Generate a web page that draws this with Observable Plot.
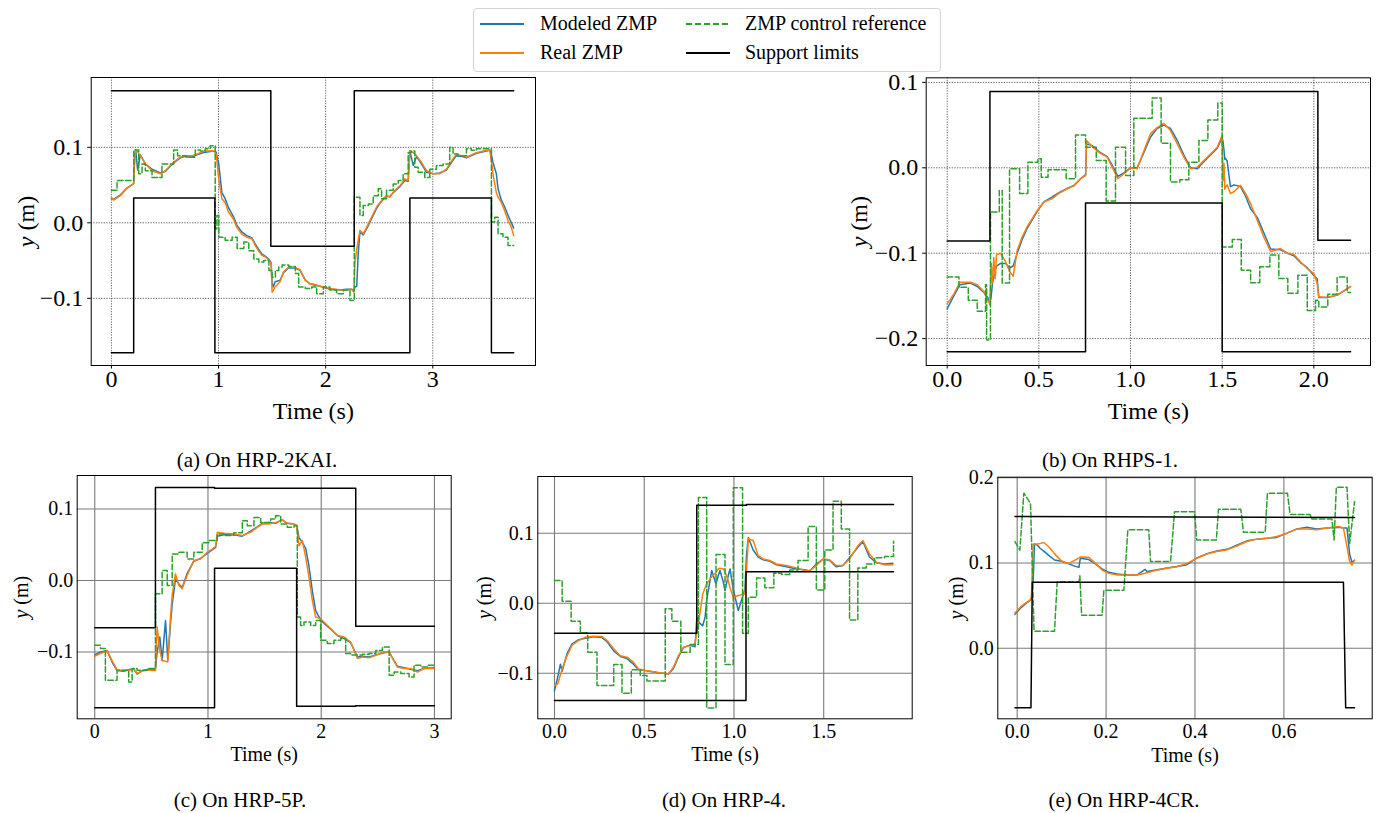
<!DOCTYPE html>
<html><head><meta charset="utf-8">
<script src="https://cdn.jsdelivr.net/npm/d3@7"></script>
<script src="https://cdn.jsdelivr.net/npm/@observablehq/plot@0.6"></script>
<style>
html,body{margin:0;padding:0;background:#fff}
body{width:1380px;height:813px;position:relative;overflow:hidden;font-family:"Liberation Serif","Times New Roman",serif;color:#000}
.panel{position:absolute}
.cap{position:absolute;font-size:21px;line-height:24px;white-space:nowrap;transform:translateX(-50%)}
.legtext{position:absolute;font-size:20px;line-height:22px;white-space:nowrap}
.leghandle{position:absolute}
</style></head><body>
<div id="legendbox" style="position:absolute;left:473px;top:8px;width:468px;height:64px;border:1px solid #d4d4d4;border-radius:4px;box-sizing:border-box;background:#fff"></div>
<div id="root"></div>
<script>
// ---------- legend ----------
const seriesNames = ["Modeled ZMP", "Real ZMP", "ZMP control reference", "Support limits"];
const seriesColors = ["#1f77b4", "#ff7f0e", "#2ca02c", "#000000"];
const seriesDash = [null, null, "5.5,2.5", null];

// ---------- captions ----------
const captions = ["(a) On HRP-2KAI.", "(b) On RHPS-1.", "(c) On HRP-5P.", "(d) On HRP-4.", "(e) On HRP-4CR."];

// ---------- panel (a) HRP-2KAI ----------
const aT = [0,0.02,0.084,0.146,0.208,0.217,0.227,0.245,0.27,0.317,
 0.379,0.457,0.503,0.55,0.596,0.643,0.689,0.752,0.798,0.86,
 0.953,0.978,0.99,1.0,1.016,1.031,1.062,1.093,1.14,1.171,
 1.217,1.264,1.311,1.342,1.373,1.404,1.435,1.475,1.491,1.5,
 1.51,1.528,1.575,1.606,1.652,1.714,1.761,1.807,1.854,1.885,
 1.947,2.04,2.13,2.196,2.24,2.264,2.273,2.29,2.304,2.32,
 2.351,2.382,2.413,2.444,2.475,2.506,2.537,2.568,2.599,2.63,
 2.661,2.693,2.739,2.77,2.786,2.817,2.848,2.894,2.941,3.003,
 3.065,3.127,3.189,3.22,3.267,3.314,3.36,3.407,3.469,3.531,
 3.547,3.562,3.578,3.593,3.609,3.64,3.671,3.702,3.733,3.755];
const aReal = [0.034,0.030,0.036,0.046,0.052,0.080,0.0965,0.094,0.089,0.078,
 0.069,0.065,0.069,0.076,0.082,0.087,0.089,0.089,0.091,0.095,
 0.0955,0.091,0.075,0.060,0.045,0.032,0.027,0.014,0.005,-0.006,
 -0.015,-0.019,-0.021,-0.030,-0.037,-0.043,-0.045,-0.050,-0.054,-0.092,
 -0.090,-0.085,-0.078,-0.065,-0.059,-0.059,-0.062,-0.076,-0.081,-0.081,
 -0.084,-0.087,-0.0885,-0.089,-0.088,-0.092,-0.054,-0.035,-0.023,-0.010,
 -0.0145,-0.006,0.003,0.012,0.021,0.027,0.032,0.036,0.034,0.0405,
 0.045,0.049,0.058,0.056,0.0956,0.093,0.089,0.080,0.069,0.065,
 0.065,0.071,0.085,0.091,0.089,0.087,0.090,0.093,0.095,0.0965,
 0.082,0.065,0.0515,0.040,0.034,0.027,0.016,0.003,-0.006,-0.017];
const aMod = [0.032,0.031,0.037,0.046,0.052,0.090,0.096,0.070,0.090,0.078,
 0.071,0.066,0.068,0.075,0.081,0.086,0.088,0.087,0.090,0.093,
 0.095,0.094,0.085,0.080,0.060,0.040,0.032,0.020,0.008,-0.003,
 -0.012,-0.017,-0.020,-0.028,-0.035,-0.041,-0.044,-0.049,-0.053,-0.080,
 -0.085,-0.078,-0.076,-0.066,-0.060,-0.060,-0.063,-0.075,-0.081,-0.082,
 -0.084,-0.088,-0.089,-0.088,-0.088,-0.089,-0.085,-0.084,-0.040,-0.012,
 -0.016,-0.008,0.001,0.010,0.019,0.026,0.031,0.035,0.035,0.040,
 0.044,0.048,0.056,0.055,0.095,0.076,0.088,0.078,0.067,0.065,
 0.066,0.070,0.083,0.089,0.088,0.086,0.089,0.092,0.094,0.096,
 0.090,0.080,0.072,0.065,0.045,0.030,0.021,0.010,0.000,-0.007];
const aRefT = [0,0.053,0.209,0.255,0.286,0.317,0.379,0.472,0.581,0.618,
 0.699,0.783,0.829,0.876,0.922,0.969,0.985,1.003,1.062,1.127,
 1.174,1.236,1.282,1.329,1.376,1.422,1.47,1.5,1.531,1.562,
 1.593,1.655,1.717,1.748,1.81,1.87,1.916,1.978,2.04,2.102,
 2.165,2.227,2.267,2.32,2.351,2.398,2.444,2.491,2.522,2.568,
 2.63,2.677,2.723,2.77,2.801,2.832,2.863,2.925,2.972,3.034,
 3.096,3.158,3.189,3.236,3.314,3.36,3.407,3.547,3.578,3.609,
 3.655,3.702,3.755];
const aRef = [0.043,0.056,0.0965,0.065,0.078,0.069,0.060,0.078,0.0965,0.089,
 0.087,0.0965,0.095,0.098,0.102,-0.008,0.0097,-0.019,-0.023,-0.019,
 -0.034,-0.0255,-0.037,-0.048,-0.052,-0.050,-0.063,-0.072,-0.063,-0.0586,
 -0.056,-0.058,-0.067,-0.085,-0.087,-0.085,-0.094,-0.085,-0.089,-0.094,
 -0.089,-0.103,0.034,0.0097,0.023,0.025,0.036,0.045,0.032,0.043,
 0.0515,0.056,0.065,0.093,0.095,0.0736,0.067,0.060,0.071,0.076,
 0.078,0.100,0.091,0.089,0.098,0.096,0.098,0.001,0.0075,-0.0145,
 -0.019,-0.030,-0.030];
const aSupUpT = [0,1.488,2.267,3.755];
const aSupUp = [0.175,-0.031,0.175,0.175];
const aSupLowT = [0,0.208,0.966,2.786,3.547,3.755];
const aSupLow = [-0.172,0.033,-0.172,0.033,-0.172,-0.172];
const aXTicks = [0,1,2,3];
const aYTicks = [-0.1,0,0.1];

// ---------- panel (b) RHPS-1 ----------
const bT = [0,0.036,0.069,0.127,0.164,0.2,0.222,0.233,0.24,0.247,
 0.254,0.262,0.269,0.291,0.318,0.342,0.36,0.382,0.409,0.436,
 0.464,0.491,0.527,0.573,0.609,0.655,0.691,0.727,0.755,0.76,
 0.791,0.827,0.873,0.9,0.931,0.964,1.0,1.036,1.073,1.109,
 1.145,1.182,1.218,1.255,1.291,1.327,1.364,1.4,1.436,1.473,
 1.5,1.505,1.51,1.514,1.518,1.527,1.545,1.564,1.6,1.627,
 1.655,1.691,1.727,1.764,1.818,1.855,1.891,1.927,1.964,2.0,
 2.018,2.027,2.073,2.127,2.2];
const bReal = [-0.159,-0.148,-0.134,-0.134,-0.137,-0.145,-0.155,-0.159,-0.112,-0.135,
 -0.105,-0.130,-0.102,-0.100,-0.110,-0.122,-0.127,-0.0965,-0.081,-0.069,
 -0.0595,-0.050,-0.040,-0.036,-0.030,-0.0245,-0.0206,-0.0128,-0.009,0.032,
 0.025,0.018,0.0125,0.0008,-0.0128,-0.007,0.0,-0.001,0.020,0.040,
 0.047,0.052,0.0436,0.028,0.0125,-0.001,0.0008,0.0086,0.016,0.024,
 0.038,-0.015,0.005,-0.025,-0.0226,-0.020,-0.030,-0.028,-0.0206,-0.030,
 -0.042,-0.0615,-0.081,-0.098,-0.0946,-0.100,-0.1016,-0.110,-0.118,-0.124,
 -0.135,-0.151,-0.152,-0.149,-0.139];
const bMod = [-0.165,-0.150,-0.137,-0.135,-0.139,-0.146,-0.152,-0.160,-0.150,-0.135,
 -0.128,-0.120,-0.115,-0.112,-0.112,-0.117,-0.115,-0.100,-0.084,-0.071,
 -0.061,-0.051,-0.040,-0.034,-0.029,-0.024,-0.021,-0.013,-0.008,0.028,
 0.026,0.019,0.013,0.003,-0.010,-0.006,0.0,0.0,0.018,0.036,
 0.046,0.050,0.046,0.032,0.015,0.0,-0.001,0.007,0.015,0.023,
 0.035,0.030,0.020,0.010,0.011,0.008,-0.022,-0.020,-0.022,-0.033,
 -0.048,-0.058,-0.076,-0.095,-0.096,-0.100,-0.103,-0.111,-0.117,-0.126,
 -0.130,-0.152,-0.152,-0.149,-0.139];
const bRefT = [0,0.064,0.115,0.164,0.209,0.215,0.236,0.284,0.3,0.34,
 0.395,0.44,0.495,0.513,0.55,0.649,0.7,0.755,0.813,0.867,
 0.918,0.973,1.018,1.118,1.167,1.218,1.269,1.318,1.373,1.422,
 1.476,1.5,1.555,1.604,1.655,1.705,1.76,1.809,1.858,1.913,
 1.964,2.009,2.027,2.076,2.127,2.182,2.2];
const bRef = [-0.128,-0.140,-0.155,-0.168,-0.137,-0.2016,-0.0518,-0.0265,-0.135,-0.0012,
 -0.030,0.0066,0.0105,-0.011,-0.0023,-0.0128,0.0385,0.024,0.0086,-0.039,
 0.024,-0.009,0.058,0.0817,0.0288,-0.0167,-0.014,0.0066,0.032,0.056,
 0.0759,-0.0926,-0.084,-0.120,-0.1346,-0.116,-0.102,-0.1296,-0.147,-0.1257,
 -0.167,-0.155,-0.163,-0.148,-0.128,-0.146,-0.146];
const bSupUpT = [0,0.233,2.022,2.2];
const bSupUp = [-0.0856,0.0895,-0.0848,-0.0848];
const bSupLowT = [0,0.7545,1.5,2.2];
const bSupLow = [-0.2155,-0.0412,-0.2155,-0.2150];
const bXTicks = [0,0.5,1,1.5,2];
const bYTicks = [-0.2,-0.1,0,0.1];

// ---------- panel (c) HRP-5P ----------
const cT = [0,0.05,0.109,0.153,0.197,0.256,0.315,0.345,0.374,0.418,
 0.477,0.536,0.551,0.575,0.595,0.625,0.645,0.669,0.684,0.713,
 0.743,0.772,0.816,0.875,0.934,0.993,1.037,1.067,1.082,1.14,
 1.229,1.303,1.376,1.435,1.48,1.538,1.597,1.656,1.7,1.76,
 1.783,1.804,1.833,1.863,1.892,1.922,1.951,1.995,2.04,2.084,
 2.143,2.202,2.26,2.32,2.364,2.423,2.482,2.555,2.6,2.673,
 2.732,2.791,2.85,2.909,2.997];
const cReal = [-0.106,-0.102,-0.098,-0.112,-0.125,-0.126,-0.125,-0.123,-0.130,-0.1265,
 -0.125,-0.126,-0.065,-0.098,-0.112,-0.113,-0.114,-0.051,-0.020,0.0093,
 -0.007,-0.0116,0.007,0.028,0.030,0.0395,0.044,0.0474,0.0674,0.066,
 0.065,0.063,0.0674,0.0744,0.079,0.079,0.081,0.0847,0.080,0.079,
 0.0767,0.0488,0.0558,0.0326,0.0047,-0.028,-0.051,-0.0535,-0.0605,-0.0674,
 -0.0767,-0.079,-0.086,-0.109,-0.107,-0.108,-0.1047,-0.100,-0.100,-0.121,
 -0.123,-0.123,-0.128,-0.123,-0.123];
const cMod = [-0.104,-0.100,-0.098,-0.114,-0.126,-0.127,-0.124,-0.124,-0.131,-0.126,
 -0.124,-0.124,-0.100,-0.079,-0.112,-0.056,-0.111,-0.060,-0.033,0.002,
 -0.005,-0.010,0.010,0.027,0.031,0.038,0.043,0.046,0.062,0.064,
 0.064,0.062,0.069,0.075,0.080,0.081,0.080,0.085,0.080,0.079,
 0.077,0.060,0.0535,0.045,0.020,-0.015,-0.042,-0.055,-0.062,-0.068,
 -0.077,-0.081,-0.087,-0.107,-0.106,-0.107,-0.104,-0.101,-0.100,-0.120,
 -0.122,-0.124,-0.126,-0.123,-0.122];
const cRefT = [0,0.05,0.094,0.197,0.30,0.33,0.374,0.463,0.536,0.595,
 0.64,0.684,0.743,0.816,0.875,0.949,1.008,1.082,1.14,1.229,
 1.303,1.347,1.406,1.465,1.553,1.597,1.642,1.7,1.76,1.789,
 1.818,1.848,1.907,1.951,1.995,2.054,2.113,2.172,2.216,2.26,
 2.364,2.423,2.482,2.54,2.6,2.644,2.703,2.776,2.82,2.879,
 2.938,2.997];
const cRef = [-0.0907,-0.095,-0.1395,-0.1256,-0.142,-0.123,-0.1256,-0.123,-0.0186,0.014,
 -0.007,0.037,0.0395,0.030,0.0395,0.053,0.056,0.065,0.063,0.067,
 0.0837,0.0767,0.088,0.081,0.086,0.0907,0.079,0.0744,0.0767,-0.051,
 -0.063,-0.058,-0.063,-0.056,-0.0837,-0.088,-0.0837,-0.081,-0.102,-0.104,
 -0.103,-0.102,-0.0977,-0.093,-0.1326,-0.128,-0.130,-0.135,-0.1186,-0.121,
 -0.1186,-0.1186];
const cSupUpT = [0,0.536,1.058,2.305,3.0];
const cSupUp = [-0.066,0.130,0.129,-0.064,-0.064];
const cSupLowT = [0,1.058,1.783,2.305,3.0];
const cSupLow = [-0.178,0.017,-0.176,-0.175,-0.175];
const cXTicks = [0,1,2,3];
const cYTicks = [-0.1,0,0.1];

// ---------- panel (d) HRP-4 ----------
const dT = [0,0.0185,0.033,0.0426,0.07,0.098,0.135,0.172,0.2185,0.265,
 0.293,0.33,0.367,0.404,0.44,0.469,0.5055,0.57,0.635,0.663,
 0.69,0.7185,0.7556,0.783,0.793,0.807,0.826,0.839,0.848,0.876,
 0.9,0.913,0.922,0.941,0.95,0.9685,0.978,0.996,1.024,1.061,
 1.07,1.08,1.107,1.135,1.163,1.2,1.237,1.2926,1.348,1.394,
 1.422,1.459,1.496,1.533,1.57,1.607,1.644,1.69,1.7185,1.755,
 1.793,1.839,1.885];
const dReal = [-0.1176,-0.115,-0.102,-0.094,-0.075,-0.060,-0.053,-0.0486,-0.047,-0.0476,
 -0.053,-0.065,-0.075,-0.077,-0.084,-0.094,-0.096,-0.0986,-0.101,-0.0914,
 -0.075,-0.063,-0.0605,-0.058,-0.039,-0.020,0.0133,0.022,0.0276,0.038,
 0.044,0.049,0.050,0.049,0.045,0.032,0.022,0.0086,0.011,0.0133,
 0.0467,0.092,0.0895,0.068,0.0633,0.061,0.056,0.0538,0.0505,0.0467,
 0.0467,0.0538,0.0633,0.062,0.0538,0.0538,0.0633,0.082,0.0895,0.0705,
 0.0586,0.0548,0.055];
const dMod = [-0.125,-0.105,-0.087,-0.097,-0.072,-0.058,-0.052,-0.050,-0.048,-0.049,
 -0.055,-0.068,-0.076,-0.079,-0.087,-0.095,-0.096,-0.099,-0.101,-0.093,
 -0.077,-0.063,-0.060,-0.062,-0.020,-0.028,-0.032,-0.020,0.005,0.0467,
 0.0276,0.040,0.0467,0.030,0.018,0.040,0.049,0.020,-0.0105,0.020,
 0.070,0.094,0.076,0.066,0.062,0.060,0.055,0.052,0.049,0.048,
 0.046,0.056,0.063,0.061,0.052,0.054,0.065,0.080,0.088,0.066,
 0.058,0.056,0.057];
const dRefT = [0,0.0426,0.0926,0.144,0.185,0.237,0.33,0.376,0.428,0.478,
 0.515,0.617,0.654,0.704,0.756,0.802,0.848,0.9,0.95,0.996,
 1.048,1.08,1.126,1.172,1.222,1.265,1.311,1.357,1.413,1.459,
 1.506,1.552,1.598,1.644,1.69,1.737,1.783,1.839,1.889];
const dRef = [0.0324,0.0029,-0.0257,-0.0424,-0.070,-0.1176,-0.0876,-0.1286,-0.095,-0.103,
 -0.111,-0.008,-0.0257,-0.070,-0.059,0.151,-0.1495,0.0695,-0.0876,0.165,
 -0.043,0.0086,0.036,0.022,0.043,0.041,0.0476,0.061,0.1095,0.019,
 0.076,0.1457,0.106,-0.0238,0.0505,0.056,0.0648,0.0667,0.0886];
const dSupUpT = [0,0.7926,1.07,1.889];
const dSupUp = [-0.043,0.140,0.141,0.141];
const dSupLowT = [0,1.067,1.889];
const dSupLow = [-0.139,0.045,0.045];
const dXTicks = [0,0.5,1,1.5];
const dYTicks = [-0.1,0,0.1];

// ---------- panel (e) HRP-4CR ----------
const eT = [-0.005,0.0075,0.0187,0.0285,0.032,0.036,0.039,0.045,0.052,0.06,
 0.071,0.084,0.101,0.116,0.131,0.139,0.142,0.161,0.176,0.191,
 0.206,0.225,0.247,0.27,0.288,0.292,0.315,0.337,0.36,0.382,
 0.404,0.427,0.449,0.472,0.494,0.517,0.539,0.562,0.584,0.607,
 0.629,0.652,0.674,0.697,0.723,0.734,0.742,0.748,0.753,0.759];
const eReal = [0.0413,0.0484,0.053,0.0563,0.060,0.1224,0.1224,0.1224,0.123,0.124,
 0.119,0.111,0.1016,0.0996,0.1035,0.106,0.107,0.1067,0.0996,0.0917,
 0.0878,0.0858,0.0858,0.0858,0.088,0.0886,0.0917,0.0937,0.0957,0.0996,
 0.1055,0.1106,0.1134,0.1154,0.120,0.1252,0.128,0.129,0.131,0.135,
 0.1398,0.1398,0.139,0.141,0.1429,0.141,0.119,0.1016,0.0976,0.1035];
const eMod = [0.0397,0.047,0.052,0.056,0.058,0.080,0.1224,0.121,0.117,0.114,
 0.109,0.1035,0.102,0.099,0.096,0.095,0.1055,0.104,0.099,0.093,
 0.089,0.087,0.086,0.086,0.0925,0.090,0.092,0.094,0.096,0.098,
 0.106,0.111,0.114,0.116,0.121,0.126,0.128,0.129,0.130,0.135,
 0.140,0.142,0.140,0.141,0.142,0.141,0.141,0.110,0.101,0.103];
const eRefT = [-0.005,0.006,0.015,0.03,0.038,0.084,0.09,0.139,0.141,0.145,
 0.191,0.195,0.24,0.249,0.296,0.3,0.345,0.354,0.399,0.404,
 0.448,0.453,0.503,0.509,0.558,0.563,0.608,0.614,0.659,0.663,
 0.708,0.713,0.718,0.742,0.748,0.759];
const eRef = [0.125,0.115,0.182,0.170,0.020,0.020,0.078,0.078,0.085,0.0386,
 0.0386,0.068,0.068,0.139,0.139,0.1016,0.1016,0.160,0.160,0.127,
 0.127,0.163,0.163,0.136,0.136,0.182,0.182,0.157,0.157,0.1516,
 0.1516,0.127,0.189,0.189,0.123,0.172];
const eSupUpT = [-0.005,0.759];
const eSupUp = [0.1547,0.1535];
const eSupLowT = [-0.005,0.031,0.034,0.734,0.739,0.759];
const eSupLow = [-0.070,-0.070,0.0775,0.0775,-0.070,-0.070];
const eXTicks = [0,0.2,0.4,0.6];
const eYTicks = [0,0.1,0.2];

// ---------- helpers ----------
const series = (t, v) => d3.zip(t, v).map(([t, v]) => ({t, v}));
const f1 = d3.format(".1f");
const fInt = d3.format("d");

const panels = [
  {box:[0,66,555,360], m:[11,20,61,90.7], xd:[-0.1885,3.9585], yd:[-0.189,0.1925], xt:aXTicks, yt:aYTicks, xf:fInt, yf:f1,
   fs:24, dotted:true, xlo:53, ylo:74, xts:3.5, xtp:1, yts:3.5, ytp:4.5,
   T:aT, mod:aMod, real:aReal, refT:aRefT, ref:aRef, upT:aSupUpT, up:aSupUp, lowT:aSupLowT, low:aSupLow, curve:"step-after"},
  {box:[840,66,540,360], m:[11.3,10,61,85.7], xd:[-0.1146,2.309], yd:[-0.2315,0.1054], xt:bXTicks, yt:bYTicks, xf:f1, yf:f1,
   fs:24, dotted:true, xlo:53, ylo:76, xts:3.5, xtp:1, yts:3.5, ytp:4.5,
   T:bT, mod:bMod, real:bReal, refT:bRefT, ref:bRef, upT:bSupUpT, up:bSupUp, lowT:bSupLowT, low:bSupLow, curve:"step-after"},
  {box:[0,465,460,300], m:[10,9.3,46.7,76.7], xd:[-0.155,3.148], yd:[-0.1934,0.1469], xt:cXTicks, yt:cYTicks, xf:fInt, yf:f1,
   fs:20, dotted:false, xlo:42, ylo:63, xts:0, xtp:5, yts:0, ytp:4,
   T:cT, mod:cMod, real:cReal, refT:cRefT, ref:cRef, upT:cSupUpT, up:cSupUp, lowT:cSupLowT, low:cSupLow, curve:"step-after"},
  {box:[465,465,455,300], m:[11,8.3,46.7,72.3], xd:[-0.093,1.993], yd:[-0.165,0.181], xt:dXTicks, yt:dYTicks, xf:f1, yf:f1,
   fs:20, dotted:false, xlo:42, ylo:61, xts:0, xtp:5, yts:0, ytp:4,
   T:dT, mod:dMod, real:dReal, refT:dRefT, ref:dRef, upT:dSupUpT, up:dSupUp, lowT:dSupLowT, low:dSupLow, curve:"step-after"},
  {box:[925,465,455,300], m:[11.7,8.3,46.7,72.3], xd:[-0.0436,0.7987], yd:[-0.0829,0.2007], xt:eXTicks, yt:eYTicks, xf:f1, yf:f1,
   fs:20, dotted:false, xlo:43, ylo:49, xts:0, xtp:5, yts:0, ytp:4,
   T:eT, mod:eMod, real:eReal, refT:eRefT, ref:eRef, upT:eSupUpT, up:eSupUp, lowT:eSupLowT, low:eSupLow, curve:"linear"}
];

const root = document.getElementById("root");
panels.forEach(p => {
  const [left, top, w, h] = p.box;
  const [mt, mr, mb, ml] = p.m;
  const grid = p.dotted
    ? {stroke:"#000", strokeWidth:0.8, strokeOpacity:0.75, strokeDasharray:"1.3,1.3"}
    : {stroke:"#7a7a7a", strokeWidth:1.1, strokeOpacity:1};
  const svg = Plot.plot({
    width: w, height: h,
    marginTop: mt, marginRight: mr, marginBottom: mb, marginLeft: ml,
    style: `font-family:"Liberation Serif","Times New Roman",serif;font-size:${p.fs}px;color:#000;background:transparent;overflow:visible;`,
    x: {type:"linear", domain:p.xd},
    y: {type:"linear", domain:p.yd},
    marks: [
      Plot.gridX(p.xt, grid),
      Plot.gridY(p.yt, grid),
      Plot.line(series(p.T, p.mod), {x:"t", y:"v", stroke:seriesColors[0], strokeWidth:1.5}),
      Plot.line(series(p.T, p.real), {x:"t", y:"v", stroke:seriesColors[1], strokeWidth:1.5}),
      Plot.line(series(p.refT, p.ref), {x:"t", y:"v", stroke:seriesColors[2], strokeWidth:1.5, strokeDasharray:seriesDash[2], curve:p.curve}),
      Plot.line(series(p.upT, p.up), {x:"t", y:"v", stroke:seriesColors[3], strokeWidth:1.5, curve:p.curve}),
      Plot.line(series(p.lowT, p.low), {x:"t", y:"v", stroke:seriesColors[3], strokeWidth:1.5, curve:p.curve}),
      Plot.frame({stroke:"#000", strokeWidth:1}),
      Plot.axisX({ticks:p.xt, tickFormat:p.xf, tickSize:p.xts, tickPadding:p.xtp, label:"Time (s)", labelAnchor:"center", labelArrow:"none", labelOffset:p.xlo}),
      Plot.axisY({ticks:p.yt, tickFormat:p.yf, tickSize:p.yts, tickPadding:p.ytp, label:"y (m)", labelAnchor:"center", labelArrow:"none", labelOffset:p.ylo})
    ]
  });
  // italic y in the y-axis label
  const lab = svg.querySelector('[aria-label="y-axis label"] text');
  if (lab) {
    lab.textContent = "";
    const ns = "http://www.w3.org/2000/svg";
    const t1 = document.createElementNS(ns, "tspan"); t1.setAttribute("font-style", "italic"); t1.textContent = "y";
    const t2 = document.createElementNS(ns, "tspan"); t2.textContent = " (m)";
    lab.appendChild(t1); lab.appendChild(t2);
  }
  const div = document.createElement("div");
  div.className = "panel";
  div.style.left = left + "px"; div.style.top = top + "px";
  div.style.width = w + "px"; div.style.height = h + "px";
  div.appendChild(svg);
  root.appendChild(div);
});

// legend entries (matplotlib column-first order: Modeled, Real | Reference, Support)
const legendOrder = [0, 1, 2, 3];
const handleX = [480, 686], textX = [540, 745], rowY = [24, 53];
legendOrder.forEach((si, i) => {
  const col = Math.floor(i / 2), row = i % 2;
  const hs = document.createElementNS("http://www.w3.org/2000/svg", "svg");
  hs.setAttribute("width", 44); hs.setAttribute("height", 6);
  hs.setAttribute("class", "leghandle");
  hs.style.left = handleX[col] + "px"; hs.style.top = (rowY[row] - 3) + "px";
  const ln = document.createElementNS("http://www.w3.org/2000/svg", "line");
  ln.setAttribute("x1", 0); ln.setAttribute("x2", 44); ln.setAttribute("y1", 3); ln.setAttribute("y2", 3);
  ln.setAttribute("stroke", seriesColors[si]); ln.setAttribute("stroke-width", 2);
  if (seriesDash[si]) ln.setAttribute("stroke-dasharray", "6,3");
  hs.appendChild(ln);
  document.body.appendChild(hs);
  const tx = document.createElement("div");
  tx.className = "legtext";
  tx.style.left = textX[col] + "px"; tx.style.top = (rowY[row] - 12) + "px";
  tx.textContent = seriesNames[si];
  document.body.appendChild(tx);
});

// captions
const capPos = [[257, 448], [1110, 448], [240, 788], [724, 788], [1124, 788]];
captions.forEach((c, i) => {
  const d = document.createElement("div");
  d.className = "cap";
  d.style.left = capPos[i][0] + "px"; d.style.top = capPos[i][1] + "px";
  d.textContent = c;
  document.body.appendChild(d);
});
</script>
</body></html>
